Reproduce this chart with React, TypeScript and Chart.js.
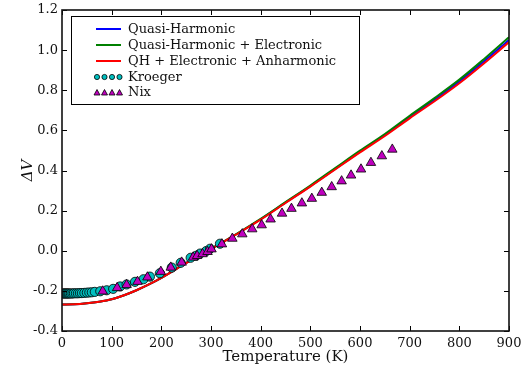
import React, { useEffect, useRef } from "react";
import { Chart, registerables } from "chart.js";

Chart.register(...registerables);

// Model curves (temperature grid in K, ΔV values)
const curveT = [0, 25, 50, 75, 100, 125, 150, 175, 200, 250, 300, 350, 400, 450, 500, 550, 600, 650, 700, 750, 800, 850, 900];
const quasiHarmonic = [-0.268, -0.267, -0.262, -0.254, -0.242, -0.222, -0.197, -0.168, -0.135, -0.061, 0.009, 0.081, 0.157, 0.240, 0.322, 0.408, 0.494, 0.577, 0.666, 0.752, 0.844, 0.945, 1.051];
const quasiHarmonicElectronic = [-0.268, -0.267, -0.262, -0.254, -0.242, -0.222, -0.197, -0.168, -0.135, -0.061, 0.010, 0.082, 0.159, 0.242, 0.325, 0.412, 0.499, 0.582, 0.673, 0.761, 0.853, 0.956, 1.064];
const qhElectronicAnharmonic = [-0.268, -0.267, -0.262, -0.254, -0.242, -0.222, -0.197, -0.168, -0.135, -0.062, 0.008, 0.080, 0.155, 0.238, 0.320, 0.405, 0.490, 0.572, 0.660, 0.745, 0.835, 0.935, 1.040];

// Experimental data
const kroegerT = [1, 3, 5, 7, 9, 11, 13, 15, 18, 21, 24, 28, 32, 36, 40, 45, 50, 55, 60, 66, 77, 90, 103, 117, 130, 147, 164, 177, 197, 221, 239, 259, 270, 278, 290, 298, 318];
const kroegerDV = [-0.213, -0.213, -0.213, -0.213, -0.213, -0.213, -0.213, -0.213, -0.213, -0.213, -0.212, -0.212, -0.212, -0.211, -0.211, -0.210, -0.209, -0.208, -0.207, -0.205, -0.202, -0.197, -0.190, -0.178, -0.168, -0.155, -0.142, -0.129, -0.112, -0.084, -0.060, -0.035, -0.025, -0.014, -0.002, 0.010, 0.035];
const nixT = [82, 111, 130, 152, 172, 199, 219, 241, 264, 272, 283, 293, 301, 322, 343, 363, 383, 402, 420, 443, 462, 483, 503, 523, 543, 563, 582, 602, 622, 644, 665];
const nixDV = [-0.202, -0.185, -0.170, -0.154, -0.132, -0.104, -0.083, -0.058, -0.033, -0.025, -0.016, -0.005, 0.008, 0.033, 0.061, 0.083, 0.108, 0.128, 0.157, 0.186, 0.210, 0.237, 0.260, 0.290, 0.318, 0.347, 0.376, 0.406, 0.439, 0.472, 0.505];

const legendLabels = ["Quasi-Harmonic", "Quasi-Harmonic + Electronic", "QH + Electronic + Anharmonic", "Kroeger", "Nix"];
const xTicks = [0, 100, 200, 300, 400, 500, 600, 700, 800, 900];
const yTicks = [-0.4, -0.2, 0.0, 0.2, 0.4, 0.6, 0.8, 1.0, 1.2];

const BLUE = "#0000ff";
const GREEN = "#008000";
const RED = "#ff0000";
const CYAN = "#00bfbf";
const MAGENTA = "#bf00bf";
const FONT = "'DejaVu Serif', serif";

const pts = (xs: number[], ys: number[]) => xs.map((x, i) => ({ x, y: ys[i] }));

const framePlugin = {
  id: "framePlugin",
  afterDraw(chart: any) {
    const ctx = chart.ctx as CanvasRenderingContext2D;
    const a = chart.chartArea;
    const xs = chart.scales.x;
    const ys = chart.scales.y;
    ctx.save();
    // inner ticks
    ctx.strokeStyle = "#000";
    ctx.lineWidth = 1;
    const tl = 5;
    ctx.beginPath();
    xTicks.forEach((t) => {
      const px = Math.round(xs.getPixelForValue(t)) + 0.5;
      ctx.moveTo(px, a.bottom);
      ctx.lineTo(px, a.bottom - tl);
      ctx.moveTo(px, a.top);
      ctx.lineTo(px, a.top + tl);
    });
    yTicks.forEach((t) => {
      const py = Math.round(ys.getPixelForValue(t)) + 0.5;
      ctx.moveTo(a.left, py);
      ctx.lineTo(a.left + tl, py);
      ctx.moveTo(a.right, py);
      ctx.lineTo(a.right - tl, py);
    });
    ctx.stroke();
    // frame
    ctx.lineWidth = 1.6;
    ctx.strokeStyle = "#111";
    ctx.strokeRect(a.left, a.top, a.right - a.left, a.bottom - a.top);

    // axis titles
    ctx.fillStyle = "#111";
    ctx.font = `15px ${FONT}`;
    ctx.textAlign = "center";
    ctx.textBaseline = "middle";
    ctx.fillText("Temperature (K)", (a.left + a.right) / 2, 357);
    ctx.save();
    ctx.translate(28, (a.top + a.bottom) / 2);
    ctx.rotate(-Math.PI / 2);
    ctx.font = `italic 15px ${FONT}`;
    ctx.fillText("ΔV", 0, 0);
    ctx.restore();

    // legend
    const bx = 71, by = 16, bw = 288, bh = 88;
    ctx.fillStyle = "#fff";
    ctx.fillRect(bx, by, bw, bh);
    ctx.lineWidth = 1;
    ctx.strokeStyle = "#000";
    ctx.strokeRect(bx + 0.5, by + 0.5, bw, bh);
    const rows = [29, 45, 61, 77, 92.5];
    const lineColors = [BLUE, GREEN, RED];
    ctx.font = `13px ${FONT}`;
    ctx.textAlign = "left";
    ctx.textBaseline = "middle";
    rows.forEach((ry, i) => {
      if (i < 3) {
        ctx.strokeStyle = lineColors[i];
        ctx.lineWidth = 2;
        ctx.beginPath();
        ctx.moveTo(96, ry);
        ctx.lineTo(121, ry);
        ctx.stroke();
      } else {
        [97, 104.5, 112, 119.5].forEach((mx) => {
          ctx.beginPath();
          if (i === 3) {
            ctx.arc(mx, ry, 2.6, 0, Math.PI * 2);
            ctx.fillStyle = CYAN;
          } else {
            ctx.moveTo(mx, ry - 3);
            ctx.lineTo(mx + 3, ry + 2.5);
            ctx.lineTo(mx - 3, ry + 2.5);
            ctx.closePath();
            ctx.fillStyle = MAGENTA;
          }
          ctx.fill();
          ctx.lineWidth = 0.8;
          ctx.strokeStyle = "#000";
          ctx.stroke();
        });
      }
      ctx.fillStyle = "#111";
      ctx.fillText(legendLabels[i], 128, ry + 0.5);
    });
    ctx.restore();
  },
};

export default function App() {
  const ref = useRef<HTMLCanvasElement | null>(null);
  useEffect(() => {
    if (!ref.current) return;
    Chart.defaults.font.family = FONT;
    Chart.defaults.font.size = 13;
    Chart.defaults.color = "#111";
    const chart = new Chart(ref.current, {
      type: "scatter",
      data: {
        datasets: [
          {
            label: "Nix",
            data: pts(nixT, nixDV),
            pointStyle: "triangle",
            pointRadius: 5.5,
            backgroundColor: MAGENTA,
            borderColor: "#000",
            borderWidth: 0.8,
            showLine: false,
            order: 0,
          },
          {
            label: "Kroeger",
            data: pts(kroegerT, kroegerDV),
            pointStyle: "circle",
            pointRadius: 4.6,
            backgroundColor: CYAN,
            borderColor: "#000",
            borderWidth: 0.8,
            showLine: false,
            order: 1,
          },
          {
            label: "QH + Electronic + Anharmonic",
            data: pts(curveT, qhElectronicAnharmonic),
            showLine: true,
            borderColor: RED,
            borderWidth: 2,
            pointRadius: 0,
            cubicInterpolationMode: "monotone",
            order: 2,
          },
          {
            label: "Quasi-Harmonic + Electronic",
            data: pts(curveT, quasiHarmonicElectronic),
            showLine: true,
            borderColor: GREEN,
            borderWidth: 2,
            pointRadius: 0,
            cubicInterpolationMode: "monotone",
            order: 3,
          },
          {
            label: "Quasi-Harmonic",
            data: pts(curveT, quasiHarmonic),
            showLine: true,
            borderColor: BLUE,
            borderWidth: 2,
            pointRadius: 0,
            cubicInterpolationMode: "monotone",
            order: 4,
          },
        ],
      },
      options: {
        animation: false,
        responsive: false,
        devicePixelRatio: 1,
        layout: { padding: { top: 10, right: 13, left: 0, bottom: 0 } },
        plugins: { legend: { display: false }, tooltip: { enabled: false } },
        scales: {
          x: {
            type: "linear",
            min: 0,
            max: 900,
            afterFit: (s: any) => { s.height = 41; s.paddingLeft = 0; s.paddingRight = 0; },
            afterBuildTicks: (s: any) => { s.ticks = xTicks.map((v) => ({ value: v })); },
            grid: { display: false, drawTicks: false },
            border: { display: false },
            ticks: { padding: 5, maxRotation: 0, autoSkip: false, callback: (v: any) => String(v) },
          },
          y: {
            type: "linear",
            min: -0.4,
            max: 1.2,
            afterFit: (s: any) => { s.width = 62; s.paddingTop = 0; s.paddingBottom = 0; },
            afterBuildTicks: (s: any) => { s.ticks = yTicks.map((v) => ({ value: v })); },
            grid: { display: false, drawTicks: false },
            border: { display: false },
            ticks: { padding: 4, autoSkip: false, callback: (v: any) => Number(v).toFixed(1) },
          },
        },
      },
      plugins: [framePlugin],
    } as any);
    return () => chart.destroy();
  }, []);
  return (
    <div style={{ position: "fixed", left: 0, top: 0, width: 522, height: 372, background: "#fff" }}>
      <canvas ref={ref} width={522} height={372} />
    </div>
  );
}
